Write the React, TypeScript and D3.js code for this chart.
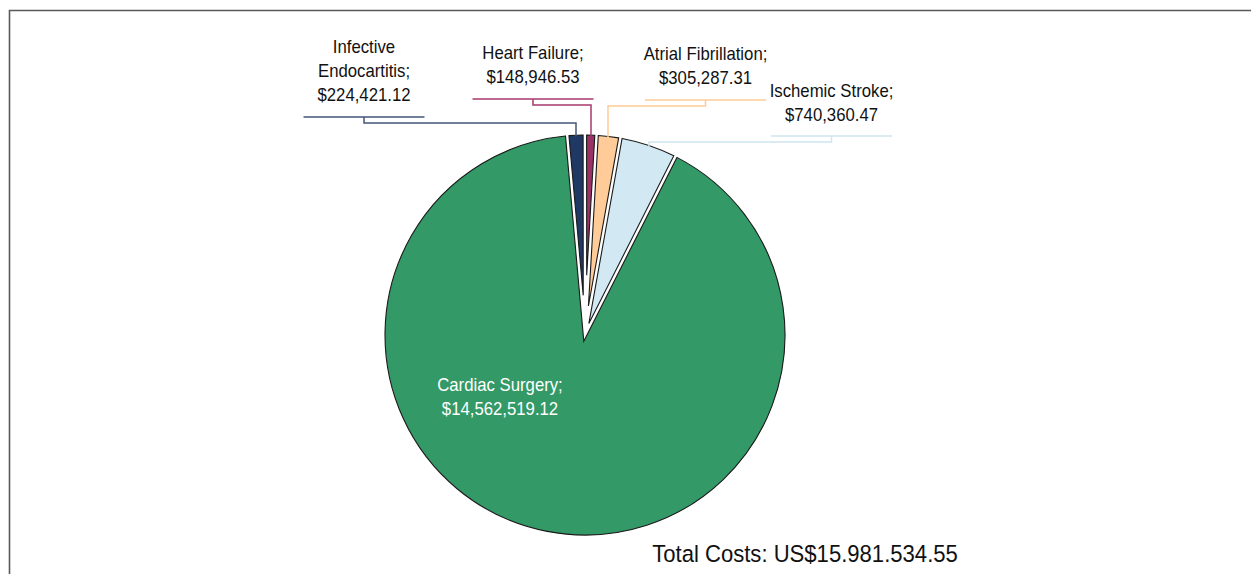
import React from "react";
import * as d3 from "d3";

const categories = ["Infective Endocartitis", "Heart Failure", "Atrial Fibrillation", "Ischemic Stroke", "Cardiac Surgery"];
const labelLines = [["Infective", "Endocartitis;"], ["Heart Failure;"], ["Atrial Fibrillation;"], ["Ischemic Stroke;"], ["Cardiac Surgery;"]];
const costs = [224421.12, 148946.53, 305287.31, 740360.47, 14562519.12];
const sliceColors = ["#1F3864", "#993366", "#FFCC99", "#D2E8F2", "#339966"];
const leaderColors = ["#44557A", "#A83A6E", "#FDCB98", "#CFE5F1", "none"];
const totalPrefix = "Total Costs: ";

// layout (positions only)
const W = 1251, H = 574;
const CX = 585, CY = 335, R = 200;
const GAP = 3.5;
const START_DEG = -5.1;
const labelLayout = [
  { cx: 364, y0: 53, ulY: 117, legX: 576, color: "#111" },
  { cx: 533, y0: 59.5, ulY: 99, legX: 591, color: "#111" },
  { cx: 705.5, y0: 60, ulY: 100, legX: 608, color: "#111" },
  { cx: 831.5, y0: 97, ulY: 136, legX: 649, color: "#111" },
  { cx: 500, y0: 391, ulY: null, legX: null, color: "#fff" },
];
const LINE_H = 23.8;
const SX = 0.93;

const fmt = d3.format("$,.2f");
const totalFmt = d3.formatLocale({ decimal: ".", thousands: ".", grouping: [3], currency: ["US$", ""] }).format("$,.2f");

function slicePath(a0: number, a1: number) {
  const h = GAP / 2;
  const half = (a1 - a0) / 2;
  const m = (a0 + a1) / 2;
  const d = h / Math.sin(half);
  const ax = CX + d * Math.sin(m), ay = CY - d * Math.cos(m);
  const dA = Math.asin(h / R);
  const b0 = a0 + dA, b1 = a1 - dA;
  const p = d3.path();
  p.moveTo(ax, ay);
  p.lineTo(CX + R * Math.sin(b0), CY - R * Math.cos(b0));
  p.arc(CX, CY, R, b0 - Math.PI / 2, b1 - Math.PI / 2, false);
  p.closePath();
  return p.toString();
}

export default function App() {
  const data = categories.map((c, i) => ({ c, v: costs[i], i }));
  const start = (START_DEG * Math.PI) / 180;
  const arcs = d3.pie<any>().sort(null).value((d) => d.v).startAngle(start).endAngle(start + 2 * Math.PI)(data);
  const total = d3.sum(costs);
  const font = "'Liberation Sans', Arial, sans-serif";
  return (
    <svg width={W} height={H} style={{ position: "absolute", left: 0, top: 0, background: "#fff" }} fontFamily={font}>
      <path d={`M9.5,${H} V10.5 H${W}`} fill="none" stroke="#5a5a5a" strokeWidth={1.6} />
      {arcs.map((a, k) => (
        <path key={k} d={slicePath(a.startAngle, a.endAngle)} fill={sliceColors[a.data.i]} stroke="#1a1a1a" strokeWidth={1.1} strokeLinejoin="miter" />
      ))}
      {arcs.map((a, k) => {
        const L = labelLayout[a.data.i];
        if (L.ulY == null) return null;
        const dx = L.legX - CX;
        const yEnd = CY - Math.sqrt(R * R - dx * dx) + 1;
        const d = `M${L.cx - 60.5},${L.ulY} H${L.cx + 60.5} M${L.cx},${L.ulY} V${L.ulY + 6} H${L.legX} V${yEnd}`;
        return <path key={"l" + k} d={d} fill="none" stroke={leaderColors[a.data.i]} strokeWidth={1.5} />;
      })}
      {arcs.map((a, k) => {
        const i = a.data.i;
        const L = labelLayout[i];
        const lines = [...labelLines[i], fmt(costs[i])];
        return (
          <text key={"t" + k} textAnchor="middle" fontSize={18} fill={L.color} transform={`translate(${L.cx},0) scale(${SX},1)`}>
            {lines.map((s, j) => (
              <tspan key={j} x={0} y={L.y0 + j * LINE_H}>{s}</tspan>
            ))}
          </text>
        );
      })}
      <text x={0} y={562} textAnchor="middle" fontSize={23.5} fill="#111" transform={`translate(805,0) scale(0.94,1)`}>{totalPrefix + totalFmt(total)}</text>
    </svg>
  );
}
